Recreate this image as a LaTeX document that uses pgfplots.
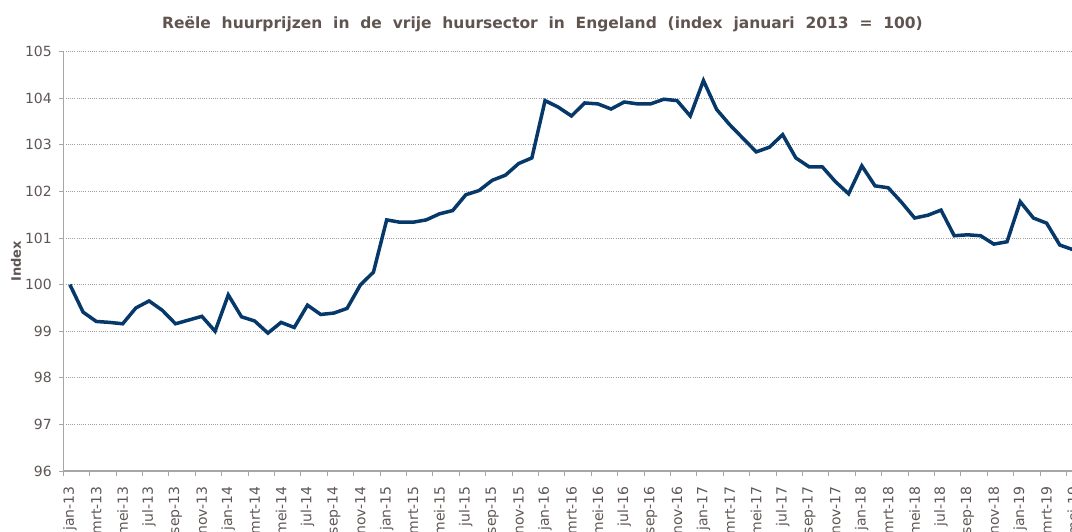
\documentclass[border=0pt]{standalone}
\usepackage{pgfplots}
\pgfplotsset{compat=1.18}
\usepackage{pgfplotstable}
\usepackage{fontspec}
\setmainfont{DejaVu Sans}
\definecolor{linec}{HTML}{06386A}
\definecolor{txt}{HTML}{5E5654}
\definecolor{ttl}{HTML}{5F5450}
\definecolor{axc}{HTML}{A6A6A6}
\definecolor{gridc}{HTML}{A0A0A0}
\pgfplotstableread{
i v
0 100.00
1 99.41
2 99.21
3 99.19
4 99.16
5 99.50
6 99.65
7 99.45
8 99.16
9 99.24
10 99.32
11 99.00
12 99.78
13 99.31
14 99.22
15 98.96
16 99.19
17 99.08
18 99.56
19 99.36
20 99.39
21 99.49
22 99.99
23 100.27
24 101.39
25 101.34
26 101.34
27 101.39
28 101.52
29 101.59
30 101.93
31 102.02
32 102.24
33 102.35
34 102.60
35 102.72
36 103.95
37 103.81
38 103.62
39 103.90
40 103.88
41 103.77
42 103.92
43 103.88
44 103.88
45 103.98
46 103.95
47 103.62
48 104.38
49 103.76
50 103.43
51 103.14
52 102.85
53 102.95
54 103.22
55 102.72
56 102.53
57 102.53
58 102.21
59 101.95
60 102.55
61 102.12
62 102.08
63 101.77
64 101.43
65 101.49
66 101.60
67 101.05
68 101.07
69 101.05
70 100.87
71 100.92
72 101.78
73 101.43
74 101.32
75 100.85
76 100.75
}\datatable
\begin{document}
\begin{tikzpicture}[x=1pt,y=1pt]
\path (0,0) rectangle (1072,531);
\begin{scope}[overlay]
\begin{axis}[
  at={(63.3pt,60pt)}, anchor=south west,
  scale only axis, width=1029.6pt, height=419.3pt,
  xmin=-0.5, xmax=77.5, ymin=96, ymax=105,
  ytick={96,97,...,105},
  xtick={0,2,...,76},
  xticklabels={jan-13,mrt-13,mei-13,jul-13,sep-13,nov-13,
    jan-14,mrt-14,mei-14,jul-14,sep-14,nov-14,
    jan-15,mrt-15,mei-15,jul-15,sep-15,nov-15,
    jan-16,mrt-16,mei-16,jul-16,sep-16,nov-16,
    jan-17,mrt-17,mei-17,jul-17,sep-17,nov-17,
    jan-18,mrt-18,mei-18,jul-18,sep-18,nov-18,
    jan-19,mrt-19,mei-19},
  minor xtick={-0.5,1.5,...,77.5},
  major x tick style={draw=none},
  minor x tick style={draw=axc, line width=1pt},
  ytick style={draw=axc, line width=1pt},
  tick align=outside,
  major tick length=4pt, minor tick length=5pt,
  axis x line*=bottom, axis y line*=left,
  axis line style={-, draw=axc, line width=1.2pt},
  ymajorgrids,
  major y grid style={draw=gridc, line width=0.8pt, dash pattern=on 1pt off 1.2pt},
  tick label style={font=\fontsize{14}{16}\selectfont, text=txt},
  xticklabel style={yshift=-8pt, rotate=90, anchor=east},
  yticklabel style={/pgf/number format/assume math mode=true, xshift=-4pt},
  ylabel={\bfseries Index},
  ylabel style={font=\fontsize{13}{15}\selectfont, text=txt, at={(axis description cs:0,0.5)}, anchor=center, yshift=47.3pt},
  title={Reële\ \ huurprijzen\ \ in\ \ de\ \ vrije\ \ huursector\ \ in\ \ Engeland\ \ (index\ \ januari\ \ 2013\ \ =\ \ 100)},
  title style={font=\bfseries\fontsize{15.5}{18}\selectfont, text=ttl, at={(axis description cs:0.4654,1)}, anchor=center, yshift=22pt},
  clip=true,
]
\addplot[linec, line width=3.5pt, mark=none] table[x=i, y=v] {\datatable};
\end{axis}
\end{scope}
\end{tikzpicture}
\end{document}
